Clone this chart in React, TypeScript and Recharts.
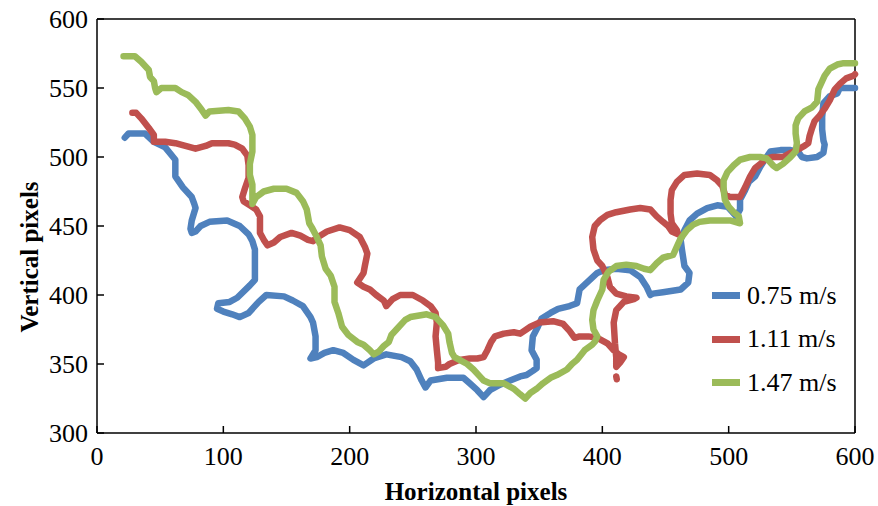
import React from "react";
import { LineChart, Line, XAxis, YAxis, ReferenceLine, Legend } from "recharts";

const xTicks = [0, 100, 200, 300, 400, 500, 600];
const yTicks = [300, 350, 400, 450, 500, 550, 600];

const seriesNames = ["0.75 m/s", "1.11 m/s", "1.47 m/s"];
const seriesColors = ["#4F81BD", "#C0504D", "#9BBB59"];

// [horizontal, vertical] pixel positions
const blue: [number, number][] = [
  [22, 514], [25, 517], [38, 517], [45, 511], [54, 507], [62, 498], [62, 486], [68, 478],
  [75, 471], [77, 466], [78, 463], [75, 454], [74, 448], [75, 445], [78, 446], [82, 450],
  [89, 453], [103, 454], [113, 450], [120, 444], [123, 439], [125, 433], [125, 411], [121, 407],
  [111, 398], [105, 395], [96, 394], [95, 390], [100, 388], [107, 386], [113, 384], [120, 387],
  [128, 395], [134, 400], [148, 399], [155, 396], [163, 392], [169, 384], [171, 380], [173, 370],
  [173, 360], [169, 354], [174, 355], [180, 358], [187, 360], [195, 358], [203, 353], [211, 349],
  [219, 354], [229, 357], [241, 355], [248, 352], [253, 346], [257, 338], [260, 333], [264, 338],
  [277, 340], [290, 340], [295, 336], [301, 331], [306, 326], [311, 331], [319, 335], [327, 338],
  [335, 341], [340, 342], [345, 345], [348, 347], [348, 353], [344, 360], [345, 370], [349, 377],
  [352, 383], [359, 387], [365, 390], [374, 392], [380, 394], [382, 404], [389, 410], [396, 416],
  [401, 418], [411, 419], [422, 418], [430, 413], [435, 406], [438, 400], [440, 401], [448, 402],
  [462, 404], [468, 409], [469, 416], [465, 421], [464, 427], [463, 433], [462, 440], [465, 447],
  [469, 454], [475, 459], [483, 463], [491, 465], [499, 464], [506, 457], [509, 462], [509, 469],
  [513, 476], [516, 482], [521, 486], [525, 493], [530, 500], [533, 504], [541, 505], [549, 505],
  [555, 504], [558, 500], [562, 499], [570, 500], [575, 503], [576, 509], [575, 512], [574, 520],
  [574, 529], [575, 539], [580, 544], [586, 546], [588, 550], [600, 550],
];

const red: ([number, number] | null)[] = [
  [28, 532], [31, 532], [35, 528], [41, 521], [45, 516], [45, 511], [49, 511], [54, 511],
  [62, 510], [70, 508], [78, 506], [86, 508], [91, 510], [104, 510], [109, 509], [115, 506],
  [119, 501], [120, 494], [120, 485], [117, 477], [115, 471], [116, 468], [121, 465], [126, 462],
  [129, 457], [129, 445], [132, 440], [135, 436], [140, 438], [145, 442], [154, 445], [161, 443],
  [167, 440], [171, 439], [175, 442], [182, 446], [192, 449], [200, 447], [208, 442], [212, 435],
  [214, 430], [212, 421], [211, 416], [206, 409], [211, 406], [216, 404], [221, 400], [227, 396],
  [229, 392], [234, 397], [240, 400], [250, 400], [258, 396], [264, 392], [268, 387], [269, 380],
  [268, 370], [269, 360], [270, 351], [270, 347], [276, 348], [279, 350], [287, 353], [295, 354],
  [301, 354], [306, 355], [309, 360], [312, 366], [315, 370], [322, 372], [330, 373], [335, 372],
  [343, 377], [350, 380], [361, 381], [369, 379], [374, 374], [378, 369], [382, 370], [389, 370],
  [396, 369], [404, 365], [409, 360], [413, 357], [417, 355], [414, 351], [411, 348], [411, 355],
  [410, 365], [409, 380], [411, 389], [417, 395], [425, 397], [427, 398], [419, 399], [411, 401],
  [406, 406], [404, 413], [400, 421], [396, 425], [393, 433], [392, 442], [394, 450], [398, 454],
  [404, 458], [411, 460], [422, 462], [430, 463], [438, 462], [443, 457], [448, 453], [452, 450],
  [455, 446], [460, 444], [459, 447], [455, 452], [454, 459], [454, 469], [455, 476], [459, 482],
  [465, 487], [475, 488], [485, 487], [491, 483], [495, 479], [497, 473], [501, 471], [509, 471],
  [513, 478], [517, 486], [521, 492], [525, 495], [530, 499], [535, 500], [543, 500], [549, 503],
  [554, 505], [560, 508], [563, 510], [564, 515], [566, 521], [568, 526], [572, 530], [576, 535],
  [580, 541], [584, 549], [588, 553], [593, 557], [599, 559], [600, 560],
  null,
  [411, 341], [411.4, 339],
];

const green: [number, number][] = [
  [21, 573], [30, 573], [35, 569], [41, 563], [42, 558], [45, 555], [46, 550], [47, 547],
  [51, 550], [62, 550], [67, 547], [72, 545], [78, 540], [83, 534], [86, 530], [89, 533],
  [104, 534], [112, 533], [117, 528], [121, 522], [123, 516], [123, 504], [121, 495], [121, 487],
  [123, 480], [123, 466], [126, 471], [132, 475], [140, 477], [150, 477], [158, 474], [163, 468],
  [166, 462], [168, 452], [170, 449], [174, 442], [177, 436], [178, 428], [181, 419], [185, 414],
  [188, 406], [188, 395], [191, 387], [194, 377], [199, 371], [206, 366], [211, 364], [216, 360],
  [219, 357], [223, 359], [227, 363], [231, 366], [233, 371], [239, 377], [244, 382], [248, 384],
  [261, 386], [268, 384], [274, 378], [278, 372], [279, 366], [281, 358], [283, 355], [287, 353],
  [293, 350], [298, 346], [303, 341], [306, 338], [311, 336], [322, 336], [330, 332], [335, 328],
  [339, 325], [343, 329], [348, 332], [353, 336], [359, 340], [364, 342], [372, 346], [376, 350],
  [380, 353], [386, 360], [392, 364], [394, 366], [396, 370], [393, 375], [392, 382], [393, 389],
  [396, 396], [400, 404], [401, 411], [405, 417], [411, 421], [419, 422], [427, 421], [433, 419],
  [438, 418], [443, 423], [448, 427], [456, 429], [459, 435], [462, 441], [467, 447], [472, 451],
  [477, 453], [485, 454], [493, 454], [501, 454], [509, 452], [508, 457], [504, 460], [500, 464],
  [497, 469], [496, 476], [496, 483], [499, 489], [504, 494], [509, 498], [517, 500], [525, 500],
  [530, 499], [535, 494], [538, 492], [543, 495], [549, 500], [553, 504], [554, 510], [553, 517],
  [553, 523], [555, 528], [560, 533], [566, 536], [570, 540], [571, 549], [574, 555], [576, 559],
  [580, 564], [586, 567], [591, 568], [600, 568],
];

const toPoints = (arr: ([number, number] | null)[]) =>
  arr.map((p, i) => (p ? { x: p[0], y: p[1] } : { x: (arr[i - 1] as [number, number])[0], y: null }));

const seriesData = [toPoints(blue), toPoints(red), toPoints(green)];

const FONT = "'Liberation Serif', 'Times New Roman', serif";

const YTick = (props: any) => {
  const { x, y, payload } = props;
  return (
    <g>
      <line x1={x + 9} x2={x + 16} y1={y} y2={y} stroke="#000" strokeWidth={1.5} />
      <text x={x} y={y} dy={9} textAnchor="end" fontSize={26} fontFamily={FONT} fill="#000">
        {payload.value}
      </text>
    </g>
  );
};

const XTick = (props: any) => {
  const { x, y, payload } = props;
  return (
    <g>
      <line x1={x} x2={x} y1={y - 12} y2={y - 19} stroke="#000" strokeWidth={1.5} />
      <text x={x} y={y} dy={20} textAnchor="middle" fontSize={26} fontFamily={FONT} fill="#000">
        {payload.value}
      </text>
    </g>
  );
};

const LegendBox = () => (
  <div style={{ fontFamily: FONT, fontSize: 26, color: "#000" }}>
    {seriesNames.map((name, i) => (
      <div key={name} style={{ display: "flex", alignItems: "center", height: 43.5 }}>
        <div style={{ width: 28, height: 7, background: seriesColors[i], marginRight: 7 }} />
        <span>{name}</span>
      </div>
    ))}
  </div>
);

export default function App() {
  return (
    <div style={{ position: "absolute", left: 0, top: 0, background: "#fff" }}>
      <LineChart width={878} height={506} margin={{ top: 19, right: 23, left: 37, bottom: 33 }}>
        <XAxis
          type="number"
          dataKey="x"
          domain={[0, 600]}
          ticks={xTicks}
          interval={0}
          height={40}
          tickSize={0}
          tickMargin={12}
          tickLine={false}
          tick={<XTick />}
          axisLine={{ stroke: "#000", strokeWidth: 1.5 }}
          label={{
            content: (p: any) => (
              <text x={p.viewBox.x + p.viewBox.width / 2} y={500} textAnchor="middle" fontSize={25} fontWeight="bold" fontFamily={FONT} fill="#000">
                Horizontal pixels
              </text>
            ),
          }}
        />
        <YAxis
          type="number"
          dataKey="y"
          domain={[300, 600]}
          ticks={yTicks}
          interval={0}
          width={60}
          tickSize={0}
          tickMargin={9}
          tickLine={false}
          tick={<YTick />}
          axisLine={{ stroke: "#000", strokeWidth: 1.5 }}
          label={{
            content: () => (
              <text x={38} y={257} transform="rotate(-90 38 257)" textAnchor="middle" fontSize={25} fontWeight="bold" fontFamily={FONT} fill="#000">
                Vertical pixels
              </text>
            ),
          }}
        />
        <ReferenceLine x={600} stroke="#000" strokeWidth={1.5} />
        <ReferenceLine y={600} stroke="#000" strokeWidth={1.5} />
        {seriesData.map((d, i) => (
          <Line
            key={seriesNames[i]}
            data={d}
            dataKey="y"
            name={seriesNames[i]}
            type="linear"
            stroke={seriesColors[i]}
            strokeWidth={6.5}
            strokeLinejoin="round"
            strokeLinecap="round"
            dot={false}
            activeDot={false}
            isAnimationActive={false}
          />
        ))}
        <Legend
          layout="vertical"
          align="center"
          verticalAlign="middle"
          wrapperStyle={{ left: 712, top: 274, width: 160 }}
          content={() => <LegendBox />}
        />
      </LineChart>
    </div>
  );
}
